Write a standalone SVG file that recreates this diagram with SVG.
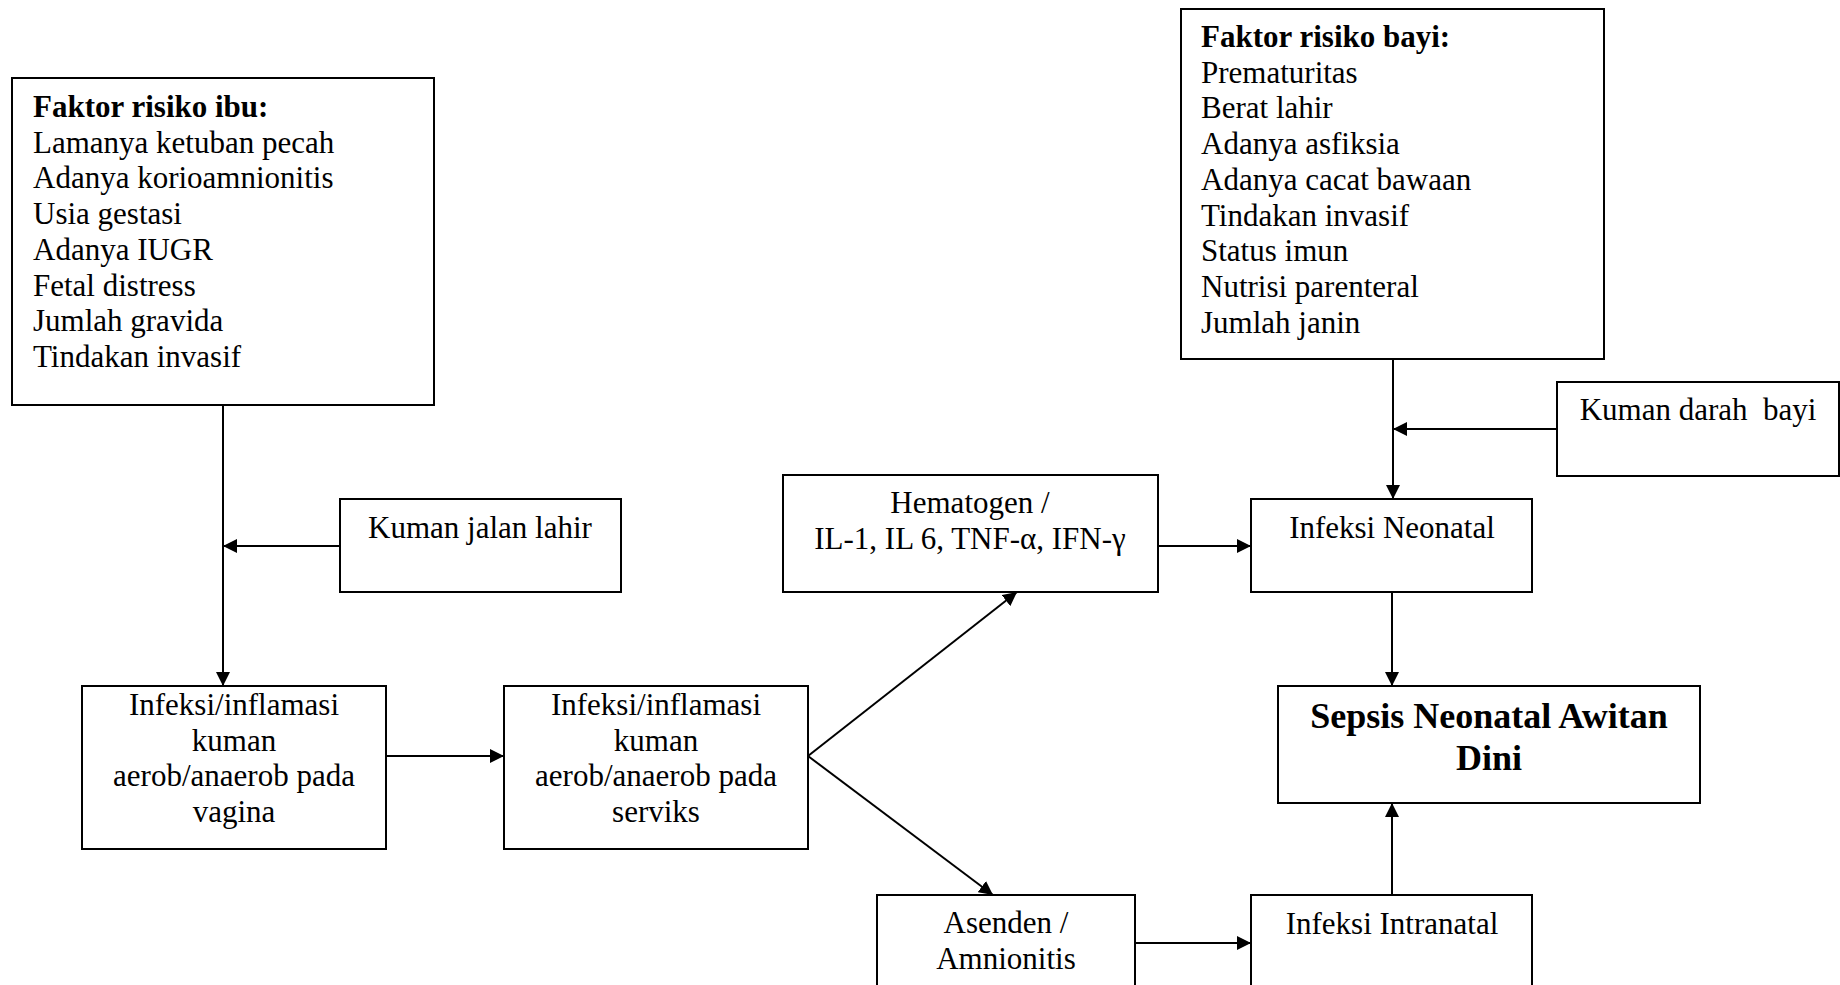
<svg xmlns="http://www.w3.org/2000/svg" width="1840" height="985" viewBox="0 0 1840 985">
  <style>
    .box { fill: #ffffff; stroke: #000000; stroke-width: 2; }
    .link { fill: none; stroke: #000000; stroke-width: 2; }
    .t { font-family: "Liberation Serif", "Times New Roman", serif; font-size: 31px; fill: #000000; }
    .c { text-anchor: middle; }
    .b { font-weight: bold; }
    .big { font-size: 36px; font-weight: bold; }
  </style>
  <defs>
    <marker id="arrow" markerUnits="userSpaceOnUse" markerWidth="14" markerHeight="14" refX="14" refY="7" orient="auto">
      <path d="M0,0 L14,7 L0,14 z" fill="#000000"/>
    </marker>
  </defs>
  <rect width="1840" height="985" fill="#ffffff"/>

  <!-- connectors -->
  <g id="connectors">
    <line class="link" x1="223" y1="405" x2="223" y2="686" marker-end="url(#arrow)"/>
    <line class="link" x1="340" y1="546" x2="223" y2="546" marker-end="url(#arrow)"/>
    <line class="link" x1="386" y1="756" x2="504" y2="756" marker-end="url(#arrow)"/>
    <line class="link" x1="808" y1="756" x2="1017" y2="592" marker-end="url(#arrow)"/>
    <line class="link" x1="808" y1="756" x2="993" y2="895" marker-end="url(#arrow)"/>
    <line class="link" x1="1158" y1="546" x2="1251" y2="546" marker-end="url(#arrow)"/>
    <line class="link" x1="1135" y1="943" x2="1251" y2="943" marker-end="url(#arrow)"/>
    <line class="link" x1="1393" y1="359" x2="1393" y2="499" marker-end="url(#arrow)"/>
    <line class="link" x1="1557" y1="429" x2="1393" y2="429" marker-end="url(#arrow)"/>
    <line class="link" x1="1392" y1="592" x2="1392" y2="686" marker-end="url(#arrow)"/>
    <line class="link" x1="1392" y1="895" x2="1392" y2="803" marker-end="url(#arrow)"/>
  </g>

  <!-- maternal risk factors -->
  <g id="faktor-ibu">
    <rect class="box" x="12" y="78" width="422" height="327"/>
    <text class="t b" x="33" y="117">Faktor risiko ibu:</text>
    <text class="t" x="33" y="152.7">Lamanya ketuban pecah</text>
    <text class="t" x="33" y="188.4">Adanya korioamnionitis</text>
    <text class="t" x="33" y="224.1">Usia gestasi</text>
    <text class="t" x="33" y="259.8">Adanya IUGR</text>
    <text class="t" x="33" y="295.5">Fetal distress</text>
    <text class="t" x="33" y="331.2">Jumlah gravida</text>
    <text class="t" x="33" y="366.9">Tindakan invasif</text>
  </g>

  <!-- infant risk factors -->
  <g id="faktor-bayi">
    <rect class="box" x="1181" y="9" width="423" height="350"/>
    <text class="t b" x="1201" y="47">Faktor risiko bayi:</text>
    <text class="t" x="1201" y="82.7">Prematuritas</text>
    <text class="t" x="1201" y="118.4">Berat lahir</text>
    <text class="t" x="1201" y="154.1">Adanya asfiksia</text>
    <text class="t" x="1201" y="189.8">Adanya cacat bawaan</text>
    <text class="t" x="1201" y="225.5">Tindakan invasif</text>
    <text class="t" x="1201" y="261.2">Status imun</text>
    <text class="t" x="1201" y="296.9">Nutrisi parenteral</text>
    <text class="t" x="1201" y="332.6">Jumlah janin</text>
  </g>

  <g id="kuman-jalan-lahir">
    <rect class="box" x="340" y="499" width="281" height="93"/>
    <text class="t c" x="480" y="538">Kuman jalan lahir</text>
  </g>

  <g id="kuman-darah-bayi">
    <rect class="box" x="1557" y="382" width="282" height="94"/>
    <text class="t c" x="1698" y="420" xml:space="preserve">Kuman darah  bayi</text>
  </g>

  <g id="infeksi-vagina">
    <rect class="box" x="82" y="686" width="304" height="163"/>
    <text class="t c" x="234" y="715">Infeksi/inflamasi</text>
    <text class="t c" x="234" y="750.7">kuman</text>
    <text class="t c" x="234" y="786.4">aerob/anaerob pada</text>
    <text class="t c" x="234" y="822.1">vagina</text>
  </g>

  <g id="infeksi-serviks">
    <rect class="box" x="504" y="686" width="304" height="163"/>
    <text class="t c" x="656" y="715">Infeksi/inflamasi</text>
    <text class="t c" x="656" y="750.7">kuman</text>
    <text class="t c" x="656" y="786.4">aerob/anaerob pada</text>
    <text class="t c" x="656" y="822.1">serviks</text>
  </g>

  <g id="hematogen">
    <rect class="box" x="783" y="475" width="375" height="117"/>
    <text class="t c" x="970" y="513">Hematogen /</text>
    <text class="t c" x="970" y="548.7">IL-1, IL 6, TNF-α, IFN-γ</text>
  </g>

  <g id="infeksi-neonatal">
    <rect class="box" x="1251" y="499" width="281" height="93"/>
    <text class="t c" x="1392" y="538">Infeksi Neonatal</text>
  </g>

  <g id="sepsis">
    <rect class="box" x="1278" y="686" width="422" height="117"/>
    <text class="t c big" x="1489" y="728">Sepsis Neonatal Awitan</text>
    <text class="t c big" x="1489" y="770">Dini</text>
  </g>

  <g id="asenden">
    <rect class="box" x="877" y="895" width="258" height="110"/>
    <text class="t c" x="1006" y="933">Asenden /</text>
    <text class="t c" x="1006" y="968.7">Amnionitis</text>
  </g>

  <g id="infeksi-intranatal">
    <rect class="box" x="1251" y="895" width="281" height="110"/>
    <text class="t c" x="1392" y="934">Infeksi Intranatal</text>
  </g>
</svg>
